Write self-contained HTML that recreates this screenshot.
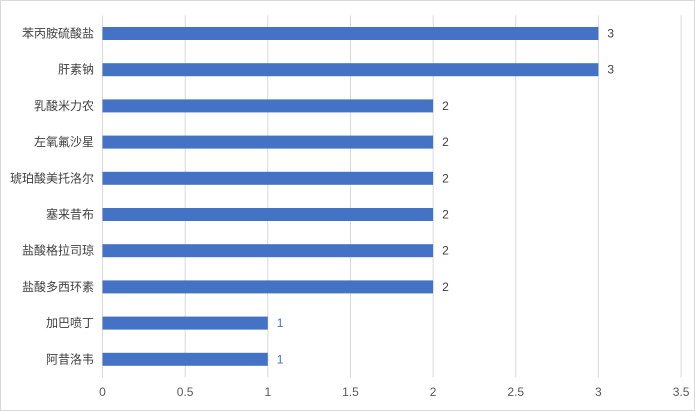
<!DOCTYPE html>
<html><head><meta charset="utf-8"><style>
body{margin:0;background:#fff;}
svg{display:block;font-family:"Liberation Sans","Noto Sans CJK SC",sans-serif;}
</style></head><body>
<svg id="chart" width="695" height="411">
<rect x="0.5" y="0.5" width="694" height="410" fill="#fff" stroke="#d9d9d9"/>
<g id="grid"></g><g id="bars"></g><g id="labels"></g><g id="ticks"></g>
</svg>
<script>
const categories=["苯丙胺硫酸盐","肝素钠","乳酸米力农","左氧氟沙星","琥珀酸美托洛尔","塞来昔布","盐酸格拉司琼","盐酸多西环素","加巴喷丁","阿昔洛韦"];
const values=[3,3,2,2,2,2,2,2,1,1];
const tickLabels=["0","0.5","1","1.5","2","2.5","3","3.5"];
const tickValues=[0,0.5,1,1.5,2,2.5,3,3.5];
const NS="http://www.w3.org/2000/svg";
const x0=102.5,unit=165.3,plotTop=15.4,band=36.2,barH=13;
const xs=v=>x0+v*unit;
const yc=i=>plotTop+band*(i+0.5);
const plotBottom=plotTop+band*categories.length;
function mk(t,a,p){const e=document.createElementNS(NS,t);for(const k in a)e.setAttribute(k,a[k]);document.getElementById(p).appendChild(e);return e;}
tickValues.forEach((v,i)=>{
 const l=mk("line",{x1:xs(v),x2:xs(v),y1:plotTop,y2:plotBottom,stroke:"#d9d9d9","stroke-width":1},"grid");
 
 
 const t=mk("text",{x:xs(v),y:396,"text-anchor":"middle","font-size":12,fill:"#595959"},"ticks");
 t.textContent=tickLabels[i];
 
 
});
categories.forEach((c,i)=>{
 const r=mk("rect",{x:xs(0),y:yc(i)-barH/2,width:xs(values[i])-xs(0),height:barH,fill:"#4472c4"},"bars");
 
 
 const t=mk("text",{x:94,y:yc(i)+4,"text-anchor":"end","font-size":12,fill:"#404040"},"labels");
 t.textContent=c;
 
 
 const v=mk("text",{x:xs(values[i])+9,y:yc(i)+4,"font-size":12,fill:values[i]===1?"#4472c4":"#404040"},"labels");
 v.textContent=values[i];
 
 
});
</script>
</body></html>
